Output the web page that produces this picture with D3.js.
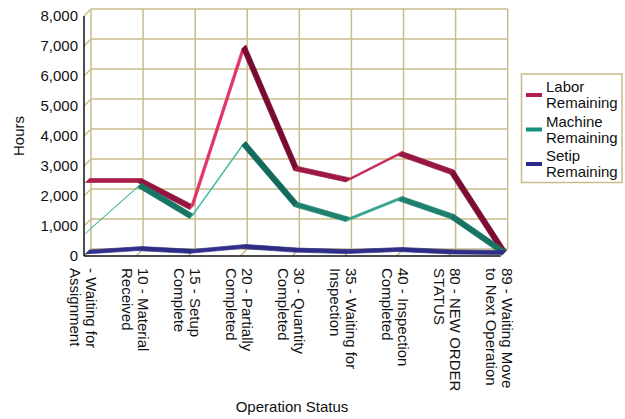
<!DOCTYPE html>
<html>
<head>
<meta charset="utf-8">
<script src="https://cdn.jsdelivr.net/npm/d3@7"></script>
<style>
  html, body { margin: 0; padding: 0; background: #ffffff; }
  svg { display: block; }
  text { font-family: "Liberation Sans", Arial, sans-serif; fill: #111; }
</style>
</head>
<body>
<svg id="chart" width="625" height="419"></svg>
<script>
// ---------- data ----------
const categories = [
  ["- Waiting for", "Assignment"],
  ["10 - Material", "Received"],
  ["15 - Setup", "Complete"],
  ["20 - Partially", "Completed"],
  ["30 - Quantity", "Completed"],
  ["35 - Waiting for", "Inspection"],
  ["40 - Inspection", "Completed"],
  ["80 - NEW ORDER", "STATUS"],
  ["89 - Waiting Move", "to Next Operation"]
];
const laborRemaining   = [2400, 2400, 1500, 6850, 2800, 2420, 3300, 2680, 0];
const machineRemaining = [700, 2240, 1200, 3630, 1600, 1100, 1800, 1200, 0];
const setipRemaining   = [20, 130, 40, 200, 80, 30, 100, 20, 0];
const seriesNames = [["Labor", "Remaining"], ["Machine", "Remaining"], ["Setip", "Remaining"]];
const yTicks = [0, 1000, 2000, 3000, 4000, 5000, 6000, 7000, 8000];
const yTitle = "Hours";
const xTitle = "Operation Status";

// ---------- styles ----------
const palette = [
  { legend: "#b21d4e", dark: "#74092e", light: "#e0346a" },
  { legend: "#12927a", dark: "#0a5e50", light: "#45c2a8" },
  { legend: "#2a2a88", dark: "#17175e", light: "#4646b0" }
];
const gridColor = "#c9bb8b";
const DEPTH = 7;          // full depth offset of the back wall
const RIB_C = 3.5;        // ribbon depth centre
const RIB_H = 2;          // ribbon half depth

const svg = d3.select("#chart");
const keys = categories.map((c, i) => i);
const x = d3.scalePoint().domain(keys).range([84, 500.7]);
const y = d3.scaleLinear().domain([0, 8000]).range([256, 16]);

// ---------- walls / grid ----------
const g = svg.append("g");
// back wall horizontal gridlines
g.selectAll("line.hg").data(yTicks).join("line")
  .attr("x1", x(0) + DEPTH).attr("x2", x(keys.length - 1) + DEPTH)
  .attr("y1", d => y(d) - DEPTH).attr("y2", d => y(d) - DEPTH)
  .attr("stroke", gridColor).attr("stroke-width", 1.5);
// left wall diagonals
g.selectAll("line.ld").data(yTicks).join("line")
  .attr("x1", x(0)).attr("x2", x(0) + DEPTH)
  .attr("y1", d => y(d)).attr("y2", d => y(d) - DEPTH)
  .attr("stroke", gridColor).attr("stroke-width", 1.5);
// back wall verticals
g.selectAll("line.vg").data(keys).join("line")
  .attr("x1", d => x(d) + DEPTH).attr("x2", d => x(d) + DEPTH)
  .attr("y1", y(8000) - DEPTH).attr("y2", y(0) - DEPTH)
  .attr("stroke", gridColor).attr("stroke-width", 1.5);
// floor diagonals
g.selectAll("line.fd").data(keys).join("line")
  .attr("x1", d => x(d)).attr("x2", d => x(d) + DEPTH)
  .attr("y1", y(0)).attr("y2", y(0) - DEPTH)
  .attr("stroke", gridColor).attr("stroke-width", 1.5);

// axes lines (front)
g.append("line").attr("x1", x(0)).attr("x2", x(0))
  .attr("y1", y(8000)).attr("y2", y(0)).attr("stroke", "#111").attr("stroke-width", 1.5);
g.append("line").attr("x1", x(0)).attr("x2", x(keys.length - 1))
  .attr("y1", y(0)).attr("y2", y(0)).attr("stroke", "#111").attr("stroke-width", 1.5);

// ---------- ribbons ----------
const allSeries = [laborRemaining, machineRemaining, setipRemaining];
allSeries.forEach((vals, si) => {
  const pal = palette[si];
  const col = d3.interpolateRgb(pal.dark, pal.light);
  const sg = svg.append("g");
  for (let i = 0; i < vals.length - 1; i++) {
    const x1 = x(i), y1 = y(vals[i]), x2 = x(i + 1), y2 = y(vals[i + 1]);
    const a = RIB_C - RIB_H, b = RIB_C + RIB_H;
    const pts = [
      [x1 + a, y1 - a], [x2 + a, y2 - a], [x2 + b, y2 - b], [x1 + b, y1 - b]
    ];
    const len = Math.hypot(x2 - x1, y2 - y1);
    const up = -(y2 - y1) / len;   // +1 going up, -1 going down
    const c = col((up + 1) / 2);
    sg.append("polygon")
      .attr("points", pts.map(p => p.join(",")).join(" "))
      .attr("fill", c).attr("stroke", c).attr("stroke-width", 0.7)
      .attr("stroke-linejoin", "round");
  }
});

// ---------- y labels ----------
svg.append("g").selectAll("text").data(yTicks).join("text")
  .attr("x", 78).attr("y", d => y(d)).attr("dy", "0.36em")
  .attr("text-anchor", "end").attr("font-size", 15)
  .text(d => d3.format(",")(d));

// ---------- x labels ----------
const xl = svg.append("g").selectAll("g").data(keys).join("g")
  .attr("transform", d => `translate(${x(d) + DEPTH},268) rotate(90)`);
xl.each(function (d) {
  const lines = categories[d];
  d3.select(this).selectAll("text").data(lines).join("text")
    .attr("x", 0).attr("y", (t, j) => j * 16).attr("dy", "0.36em")
    .attr("font-size", 15).text(t => t);
});

// ---------- titles ----------
svg.append("text").attr("transform", `translate(24,136) rotate(-90)`)
  .attr("text-anchor", "middle").attr("font-size", 15).text(yTitle);
svg.append("text").attr("x", 292).attr("y", 412)
  .attr("text-anchor", "middle").attr("font-size", 15).text(xTitle);

// ---------- legend ----------
const lg = svg.append("g");
lg.append("rect").attr("x", 521.5).attr("y", 74).attr("width", 100.5).attr("height", 108.5)
  .attr("fill", "#fff").attr("stroke", gridColor).attr("stroke-width", 1.5);
seriesNames.forEach((nm, i) => {
  const cy = 95 + i * 34.5;
  lg.append("rect").attr("x", 526).attr("y", cy - 2).attr("width", 16).attr("height", 4)
    .attr("fill", palette[i].legend);
  nm.forEach((t, j) => {
    lg.append("text").attr("x", 546).attr("y", cy - 8 + j * 16).attr("dy", "0.36em")
      .attr("font-size", 15).text(t);
  });
});
</script>
</body>
</html>
